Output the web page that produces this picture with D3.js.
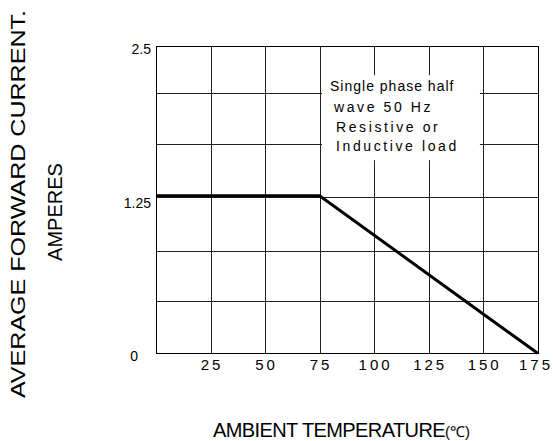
<!DOCTYPE html>
<html>
<head>
<meta charset="utf-8">
<script src="https://cdn.jsdelivr.net/npm/d3@7"></script>
<style>
	body { margin: 0; background: #fff; }
	text { font-family: "Liberation Sans", Arial, sans-serif; fill: #000; }
	.grid line { stroke: #222; stroke-width: 1; shape-rendering: crispEdges; }
	.frame { stroke: #000; stroke-width: 1; fill: none; shape-rendering: crispEdges; }
	.curve { stroke: #000; stroke-width: 3; fill: none; }
</style>
</head>
<body>
<svg></svg>
<script>
	// derating curve
	var temps = [0, 75, 175];
	var current = [1.28, 1.28, 0];

	var xTicks = [25, 50, 75, 100, 125, 150, 175];
	var yTicks = [0, 1.25, 2.5];
	var xGrid = [25, 50, 75, 100, 125, 150];
	var yGrid = [0.423, 0.834, 1.27, 1.701, 2.113];

	var noteLines = ["Single phase half", "wave 50 Hz", "Resistive or", "Inductive load"];
	var yTitle = ["AVERAGE FORWARD CURRENT.", "AMPERES"];
	var xTitle = "AMBIENT TEMPERATURE";

	var W = 553, H = 441;
	var margins = { left: 156, right: 15.3, top: 45.7, bottom: 87.7 };

	var svg = d3.select("svg")
		.attr("width", W)
		.attr("height", H);

	var x = d3.scaleLinear()
		.domain([0, 175])
		.range([margins.left, W - margins.right]);
	var y = d3.scaleLinear()
		.domain([0, 2.5])
		.range([H - margins.bottom, margins.top]);

	var px = v => Math.round(x(v)) + 0.5;
	var py = v => Math.round(y(v)) + 0.5;

	// grid
	var grid = svg.append("g").attr("class", "grid");
	grid.selectAll(".gx")
		.data(xGrid)
		.enter()
		.append("line")
		.attr("x1", d => px(d)).attr("x2", d => px(d))
		.attr("y1", y(2.5)).attr("y2", y(0));
	grid.selectAll(".gy")
		.data(yGrid)
		.enter()
		.append("line")
		.attr("x1", x(0)).attr("x2", x(175))
		.attr("y1", d => py(d)).attr("y2", d => py(d));

	// note box (white, hides grid behind the text)
	var bx0 = px(75) + 1.5, bx1 = x(148.5);
	var by0 = y(2.26), by1 = y(1.57);
	svg.append("rect")
		.attr("x", bx0).attr("y", by0)
		.attr("width", bx1 - bx0).attr("height", by1 - by0)
		.attr("fill", "#fff");

	var noteX = [8, 12, 14, 14];
	var noteY = [16, 37, 57, 76];
	var noteSpacing = [1, 2.6, 2.6, 2.6];
	svg.selectAll(".note")
		.data(noteLines)
		.enter()
		.append("text")
		.attr("x", (d, i) => bx0 + noteX[i])
		.attr("y", (d, i) => by0 + noteY[i])
		.attr("font-size", 14)
		.attr("letter-spacing", (d, i) => noteSpacing[i])
		.text(d => d);

	// frame
	svg.append("rect")
		.attr("class", "frame")
		.attr("x", Math.round(x(0)) + 0.5)
		.attr("y", Math.round(y(2.5)) + 0.5)
		.attr("width", Math.round(x(175)) - Math.round(x(0)))
		.attr("height", Math.round(y(0)) - Math.round(y(2.5)));

	// curve
	var line = d3.line()
		.x(d => x(d[0]))
		.y(d => y(d[1]));
	svg.append("path")
		.attr("class", "curve")
		.attr("d", line(temps.map((t, i) => [t, current[i]])));

	// tick labels (last one pulled in so it stays inside the page)
	svg.selectAll(".xt")
		.data(xTicks)
		.enter()
		.append("text")
		.attr("x", d => Math.min(x(d) + 1.5, W - 17))
		.attr("y", y(0) + 17)
		.attr("text-anchor", "middle")
		.attr("font-size", 15)
		.attr("letter-spacing", 3)
		.text(d => d);

	svg.selectAll(".yt")
		.data(yTicks)
		.enter()
		.append("text")
		.attr("x", d => d === 0 ? x(0) - 18 : x(0) - 5)
		.attr("y", d => y(d) + 8)
		.attr("text-anchor", "end")
		.attr("font-size", 14)
		.text(d => d);

	// axis titles
	svg.append("text")
		.attr("transform", "translate(25,204) rotate(-90)")
		.attr("text-anchor", "middle")
		.attr("font-size", 20)
		.attr("textLength", 388)
		.attr("lengthAdjust", "spacingAndGlyphs")
		.text(yTitle[0]);
	svg.append("text")
		.attr("transform", "translate(62,212) rotate(-90)")
		.attr("text-anchor", "middle")
		.attr("font-size", 20)
		.text(yTitle[1]);

	var xt = svg.append("text")
		.attr("x", 213)
		.attr("y", 437)
		.attr("font-size", 20)
		.attr("letter-spacing", -0.6);
	xt.append("tspan").text(xTitle);
	xt.append("tspan").attr("font-size", 15).attr("letter-spacing", 0).text("(℃)");
</script>
</body>
</html>
